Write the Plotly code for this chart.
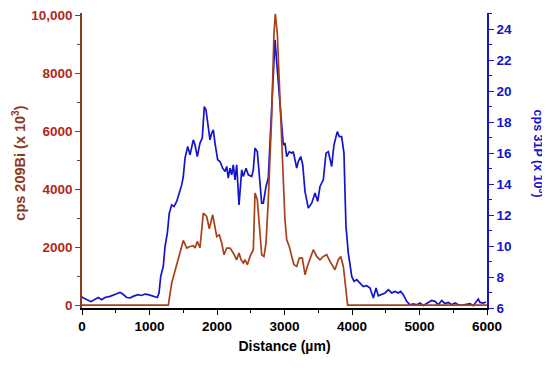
import plotly.graph_objects as go

# Distance (µm) and values
p_distance = [0, 15, 133, 193, 241, 292, 341, 415, 459, 514, 563, 603, 662, 711, 756, 830, 884, 933, 982,
              1056, 1116, 1141, 1166, 1204, 1230, 1264, 1293, 1329, 1363, 1403, 1477, 1501, 1526, 1566, 1600,
              1649, 1674, 1708, 1748, 1782, 1812, 1837, 1871, 1896, 1921, 1945, 1970, 2010, 2044, 2084, 2119,
              2144, 2167, 2193, 2218, 2241, 2267, 2292, 2326, 2366, 2390, 2430, 2464, 2514, 2538, 2563, 2597,
              2662, 2686, 2726, 2760, 2796, 2825, 2859, 2884, 2923, 2959, 2982, 3007, 3033, 3071, 3107, 3130,
              3181, 3204, 3240, 3270, 3304, 3353, 3403, 3452, 3492, 3526, 3575, 3615, 3649, 3699, 3733, 3782,
              3812, 3847, 3881, 3896, 3911, 3945, 3996, 4030, 4070, 4119, 4167, 4218, 4267, 4316, 4356, 4390,
              4440, 4489, 4538, 4588, 4637, 4686, 4721, 4760, 4810, 4859, 4908, 4959, 5007, 5056, 5130, 5181,
              5230, 5279, 5329, 5378, 5427, 5477, 5526, 5575, 5625, 5699, 5748, 5797, 5871, 5896, 5945, 5985]
p_cps = [6.73, 6.66, 6.41, 6.58, 6.68, 6.54, 6.68, 6.75, 6.81, 6.92, 7.01, 6.90, 6.68, 6.65, 6.75, 6.86, 6.81,
         6.90, 6.86, 6.75, 6.68, 6.97, 8.04, 8.68, 9.97, 10.84, 12.13, 12.66, 12.55, 12.88, 13.95, 14.49, 15.68,
         16.43, 15.89, 16.86, 16.54, 15.78, 16.65, 16.97, 19.01, 18.79, 17.72, 16.86, 17.29, 17.50, 16.65, 15.57,
         15.46, 15.03, 14.81, 15.14, 14.39, 15.03, 14.60, 15.25, 14.28, 15.25, 12.66, 14.92, 14.49, 15.03, 14.60,
         14.49, 14.92, 16.32, 16.10, 12.77, 12.77, 13.85, 14.39, 17.39, 20.19, 23.31, 21.91, 19.55, 17.39, 16.54,
         16.65, 15.78, 16.10, 16.00, 16.10, 15.03, 15.46, 15.78, 15.25, 13.52, 12.45, 12.77, 13.42, 12.88, 13.85,
         14.28, 16.00, 16.10, 15.14, 16.54, 17.39, 17.07, 17.07, 16.00, 13.52, 11.26, 9.55, 8.04, 7.72, 7.83,
         7.61, 7.39, 7.44, 7.29, 6.65, 7.29, 6.79, 6.86, 6.97, 7.18, 6.97, 7.07, 6.97, 7.07, 6.86, 6.43, 6.21,
         6.26, 6.21, 6.32, 6.17, 6.36, 6.49, 6.43, 6.21, 6.49, 6.28, 6.36, 6.21, 6.32, 6.21, 6.17, 6.21, 6.28,
         6.15, 6.58, 6.36, 6.32, 6.39]

bi_distance = [0, 1279, 1329, 1378, 1412, 1452, 1501, 1551, 1600, 1649, 1674, 1708, 1748, 1797, 1847, 1886,
               1936, 1996, 2034, 2070, 2104, 2144, 2193, 2241, 2292, 2326, 2356, 2390, 2415, 2449, 2489, 2538,
               2563, 2597, 2637, 2662, 2696, 2726, 2760, 2810, 2844, 2864, 2893, 2933, 2973, 3007, 3033, 3071,
               3107, 3141, 3181, 3219, 3264, 3304, 3338, 3378, 3427, 3477, 3526, 3575, 3625, 3674, 3723, 3748,
               3797, 3833, 3872, 3921, 3935, 3956, 6000]
bi_cps = [0, 0, 764, 1163, 1508, 1797, 2231, 1969, 2024, 2048, 1969, 2196, 1980, 3174, 3057, 2633, 3115, 2368,
          2427, 2141, 1738, 1969, 1969, 1797, 1566, 1797, 1566, 1453, 1566, 1394, 1680, 1911, 3862, 3632, 2485,
          1738, 1680, 2141, 3632, 6499, 9370, 10040, 9370, 7074, 4778, 2943, 2255, 2024, 1680, 1394, 1336, 1625,
          1625, 1050, 1336, 1566, 1911, 1680, 1566, 1680, 1738, 1508, 1336, 1222, 1566, 1680, 1336, 420, 0, 0, 0]

x_ticks = [0, 1000, 2000, 3000, 4000, 5000, 6000]
bi_ticks = [0, 2000, 4000, 6000, 8000, 10000]
bi_ticktext = ["0", "2000", "4000", "6000", "8000", "10,000"]
p_ticks = [6, 8, 10, 12, 14, 16, 18, 20, 22, 24]

RED_LINE = "#A8401C"
RED_TEXT = "#B0281C"
RED_AXIS = "#8E3A1A"
BLUE = "#1414CC"
FONT = "Liberation Sans"
TICK = 13.5

fig = go.Figure()
fig.add_trace(go.Scatter(x=p_distance, y=p_cps, mode="lines", yaxis="y",
                         line=dict(color=BLUE, width=1.7), showlegend=False))
fig.add_trace(go.Scatter(x=bi_distance, y=bi_cps, mode="lines", yaxis="y2",
                         line=dict(color=RED_LINE, width=1.7), showlegend=False))

# the page body adds an 8 px margin, so the figure is 8 px smaller each way
fig.update_layout(
    width=542, height=360,
    margin=dict(l=74, r=63, t=5, b=60, autoexpand=False),
    paper_bgcolor="white", plot_bgcolor="white",
    font=dict(family=FONT, size=12, color="black"),
    xaxis=dict(range=[0, 6000], tickvals=x_ticks, showgrid=False, zeroline=False, automargin=False,
               showline=True, linecolor="black", linewidth=1.5, ticklabeloverflow="allow",
               ticks="outside", ticklen=5, tickwidth=1.2, tickcolor="black",
               minor=dict(dtick=500, tick0=0, ticks="outside", ticklen=3, tickcolor="black", showgrid=False),
               tickfont=dict(family=FONT, size=TICK, color="black", weight="bold"),
               title=dict(text="<b>Distance (µm)</b>", font=dict(family=FONT, size=14, color="black"),
                          standoff=8)),
    yaxis=dict(range=[6, 25.05], side="right", tickvals=p_ticks, showgrid=False, zeroline=False,
               automargin=False, ticklabeloverflow="allow",
               showline=True, linecolor=BLUE, linewidth=1.5,
               ticks="outside", ticklen=5, tickwidth=1.2, tickcolor=BLUE,
               minor=dict(dtick=1, tick0=6, ticks="outside", ticklen=3, tickcolor=BLUE, showgrid=False),
               tickfont=dict(family=FONT, size=TICK, color=BLUE, weight="bold")),
    yaxis2=dict(range=[-97, 10069], side="left", overlaying="y", anchor="x", automargin=False,
                ticklabeloverflow="allow",
                tickvals=bi_ticks, ticktext=bi_ticktext, showgrid=False, zeroline=False,
                showline=True, linecolor=RED_AXIS, linewidth=1.5,
                ticks="outside", ticklen=5, tickwidth=1.2, tickcolor=RED_AXIS,
                minor=dict(dtick=1000, tick0=0, ticks="outside", ticklen=3, tickcolor=RED_AXIS, showgrid=False),
                tickfont=dict(family=FONT, size=TICK, color=RED_TEXT, weight="bold")),
    annotations=[
        dict(text="<b>cps 209Bi (x 10<sup>3</sup>)</b>", xref="paper", yref="paper",
             x=-0.155, y=0.49, textangle=-90, showarrow=False,
             font=dict(family=FONT, size=14.5, color=RED_AXIS), xanchor="center", yanchor="middle"),
        dict(text="<b>cps 31P (x 10<sup>3</sup>)</b>", xref="paper", yref="paper",
             x=1.128, y=0.524, textangle=90, showarrow=False,
             font=dict(family=FONT, size=12.5, color=BLUE), xanchor="center", yanchor="middle"),
    ],
)

fig.write_html("out.html")
